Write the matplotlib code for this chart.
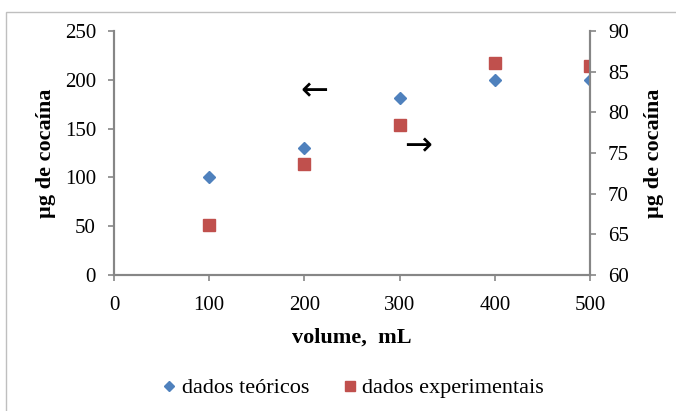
import matplotlib.pyplot as plt
from matplotlib.patches import Rectangle

plt.rcParams['font.family'] = ['Liberation Serif', 'DejaVu Serif']

# data
volume = [100, 200, 300, 400, 500]
teoricos = [100, 130, 181, 200, 200]           # left axis
experimentais = [66.2, 73.7, 78.4, 86.1, 85.7]  # right axis

x_ticks = [0, 100, 200, 300, 400, 500]
left_ticks = [0, 50, 100, 150, 200, 250]
right_ticks = [60, 65, 70, 75, 80, 85, 90]

blue = '#4F81BD'
red = '#C0504D'
grey = '#868686'

fig = plt.figure(figsize=(6.76, 4.11), dpi=100)
ax = fig.add_axes([114 / 676, 1 - 275 / 411, 476 / 676, 244 / 411])
ax2 = ax.twinx()

# chart area border
fig.patches.append(Rectangle((6 / 676, -0.05), 1.2, 1 - 12 / 411 + 0.05,
                             transform=fig.transFigure, fill=False,
                             edgecolor='#BFBFBF', linewidth=1.0))

h1, = ax.plot(volume, teoricos, linestyle='none', marker='D', markersize=6.3,
              color=blue, markeredgecolor=blue, label='dados teóricos')
h2, = ax2.plot(volume, experimentais, linestyle='none', marker='s', markersize=8.8,
               color=red, markeredgecolor=red, label='dados experimentais')

ax.set_xlim(0, 500)
ax.set_ylim(0, 250)
ax2.set_ylim(60, 90)
ax.set_xticks(x_ticks)
ax.set_yticks(left_ticks)
ax2.set_yticks(right_ticks)

for a in (ax, ax2):
    a.spines['top'].set_visible(False)
    for s in ('left', 'right', 'bottom'):
        a.spines[s].set_color(grey)
        a.spines[s].set_linewidth(1.5)
    a.tick_params(direction='out', length=4, width=1.2, color=grey,
                  labelsize=15, labelcolor='black', pad=9)
ax.tick_params(axis='x', pad=11)

ax.set_xlabel('volume,  mL', fontsize=16, fontweight='bold', labelpad=9)
ax.set_ylabel('µg de cocaína', fontsize=16, fontweight='bold', labelpad=6)
ax2.set_ylabel('µg de cocaína', fontsize=16, fontweight='bold', labelpad=11)

# arrows pointing to the matching axis
ax.text(211, 189, '←', fontsize=24, ha='center', va='center', family='DejaVu Sans')
ax.text(319, 132, '→', fontsize=24, ha='center', va='center', family='DejaVu Sans')

fig.legend(handles=[h1, h2], loc='center', bbox_to_anchor=(354 / 676, 1 - 388 / 411),
           ncol=2, frameon=False, prop={'family': 'Liberation Serif', 'size': 16},
           handlelength=0.5, handletextpad=0.3, columnspacing=1.6, markerscale=0.85)

fig.savefig('out.png', dpi=100)
